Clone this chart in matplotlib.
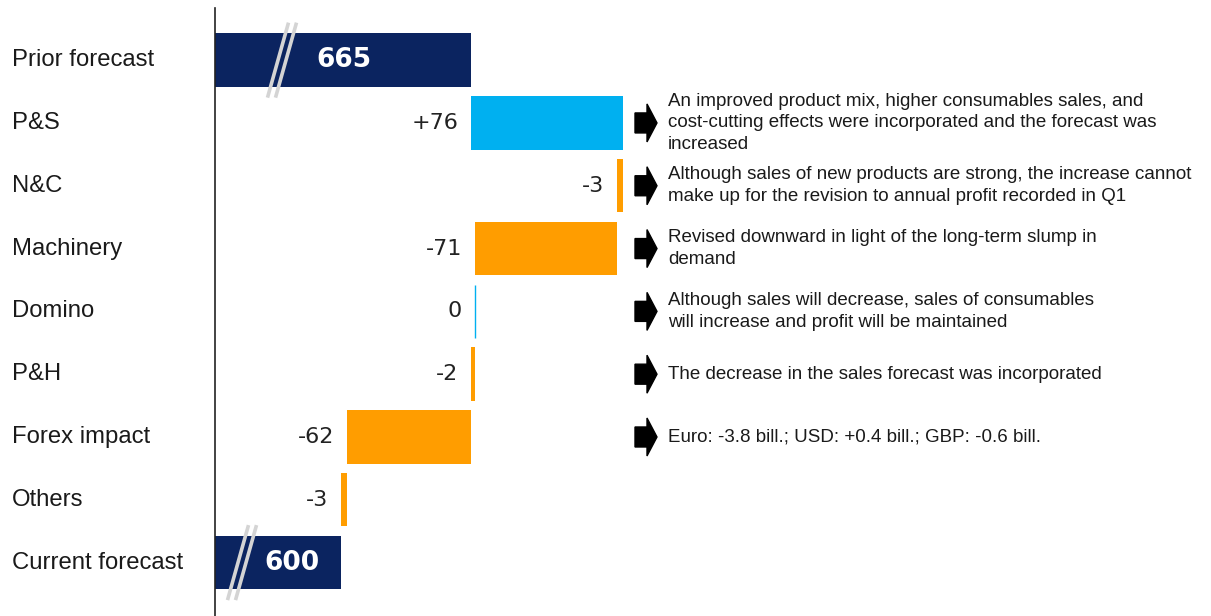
import matplotlib
matplotlib.use("Agg")
import matplotlib.pyplot as plt
from matplotlib.patches import Polygon
from matplotlib.lines import Line2D
import matplotlib.transforms as mtransforms

# ---------------- data ----------------
categories = ["Prior forecast", "P&S", "N&C", "Machinery", "Domino",
              "P&H", "Forex impact", "Others", "Current forecast"]
prior_forecast = 665
changes = [76, -3, -71, 0, -2, -62, -3]
current_forecast = 600
change_labels = ["+76", "-3", "-71", "0", "-2", "-62", "-3"]
notes = [
    "An improved product mix, higher consumables sales, and\ncost-cutting effects were incorporated and the forecast was\nincreased",
    "Although sales of new products are strong, the increase cannot\nmake up for the revision to annual profit recorded in Q1",
    "Revised downward in light of the long-term slump in\ndemand",
    "Although sales will decrease, sales of consumables\nwill increase and profit will be maintained",
    "The decrease in the sales forecast was incorporated",
    "Euro: -3.8 bill.; USD: +0.4 bill.; GBP: -0.6 bill.",
]

NAVY = "#0b2460"
CYAN = "#00b0f0"
ORANGE = "#ff9d00"

W, H = 1211, 616
fig = plt.figure(figsize=(W / 100, H / 100), dpi=100)
ax = fig.add_axes([215 / W, 0, 1 - 215 / W, (H - 8) / H])
xmin = 537
xmax = xmin + (W - 215) / 2.0
ax.set_xlim(xmin, xmax)
ax.set_ylim(8.85, -0.83)
for s in ["top", "right", "bottom"]:
    ax.spines[s].set_visible(False)
ax.spines["left"].set_color("#222222")
ax.spines["left"].set_linewidth(1.2)
ax.set_xticks([])
ax.set_yticks([])

bh = 0.85
ys = list(range(len(categories)))

# totals
ax.barh(ys[0], prior_forecast - xmin, left=xmin, height=bh, color=NAVY)
ax.barh(ys[-1], current_forecast - xmin, left=xmin, height=bh, color=NAVY)

# changes
cum = prior_forecast
for i, d in enumerate(changes):
    y = ys[i + 1]
    col = CYAN if d >= 0 else ORANGE
    if d == 0:
        ax.barh(y, 0.01, left=cum, height=bh, color=col, edgecolor=col, linewidth=1.0)
    else:
        ax.barh(y, d, left=cum, height=bh, color=col)
    lx = min(cum, cum + d) - 6.5
    ax.text(lx, y, change_labels[i], ha="right", va="center",
            fontsize=16, family="DejaVu Sans", color="#222222")
    cum += d

# total labels
ax.text((xmin + prior_forecast) / 2 + 0.5, ys[0], str(prior_forecast), ha="center", va="center",
        fontsize=19, fontweight="bold", family="DejaVu Sans", color="white")
ax.text((xmin + current_forecast) / 2 + 7, ys[-1], str(current_forecast), ha="center", va="center",
        fontsize=19, fontweight="bold", family="DejaVu Sans", color="white")

# break marks
def break_mark(xc, yc):
    tr = fig.dpi_scale_trans + mtransforms.ScaledTranslation(xc, yc, ax.transData)
    for dx in (-0.04, 0.04):
        ln = Line2D([dx - 0.105, dx + 0.105], [-0.375, 0.375], transform=tr,
                    color="#d4d4d4", linewidth=2.6, solid_capstyle="butt", clip_on=False)
        ax.add_artist(ln)

break_mark(xmin + 33.5, ys[0])
break_mark(xmin + 13.5, ys[-1])

# category labels
btr = mtransforms.blended_transform_factory(fig.transFigure, ax.transData)
for i, c in enumerate(categories):
    fig.text(12 / W, ys[i], c, transform=btr, ha="left", va="center",
             fontsize=17.2, family="Liberation Sans", color="#1a1a1a")

# arrows + notes
arrow_x = xmin + (635 - 215) / 2
text_x = xmin + (668 - 215) / 2
for i, note in enumerate(notes):
    y = ys[i + 1]
    tr = fig.dpi_scale_trans + mtransforms.ScaledTranslation(arrow_x, y, ax.transData)
    verts = [(0, -0.10), (0.12, -0.10), (0.12, -0.19), (0.22, 0.0),
             (0.12, 0.19), (0.12, 0.10), (0, 0.10)]
    ax.add_patch(Polygon(verts, closed=True, transform=tr, facecolor="black",
                         edgecolor="black", clip_on=False))
    ax.text(text_x, y, note, ha="left", va="center", fontsize=13.5,
            family="Liberation Sans", color="#1a1a1a", linespacing=1.38)

fig.savefig("out.png", dpi=100, facecolor="white")
